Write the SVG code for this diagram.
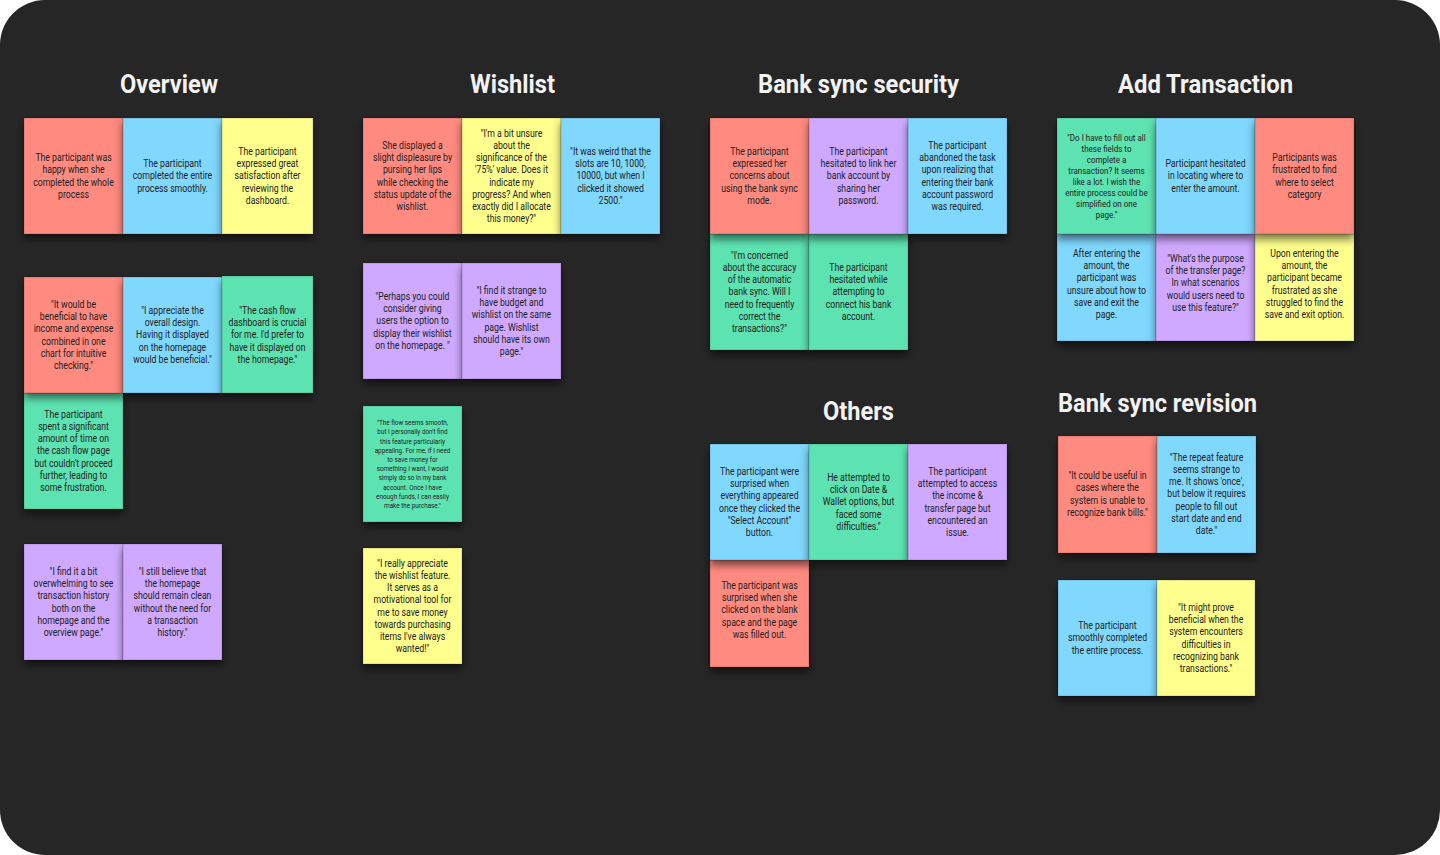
<svg xmlns="http://www.w3.org/2000/svg" width="1440" height="855" viewBox="0 0 1440 855">
<defs>
<filter id="sh" x="-20%" y="-20%" width="140%" height="150%">
<feDropShadow dx="0" dy="5" stdDeviation="4" flood-color="#000" flood-opacity="0.55"/>
</filter>
<style>
.n{filter:url(#sh);stroke:rgba(0,0,0,0.18);stroke-width:1}
.r{fill:#FF8A80}.b{fill:#80D8FF}.y{fill:#FFFF8D}.g{fill:#5DE3B1}.p{fill:#CFA9FF}
.t{font-family:Roboto,"Liberation Sans",sans-serif;font-size:10px;fill:#222;text-anchor:middle}
.s{font-size:7.3px}.m{font-size:9.2px}
.h{font-family:Roboto,"Liberation Sans",sans-serif;font-size:26px;font-weight:700;fill:#F2F2F2}
</style>
</defs>
<rect x="0" y="0" width="1440" height="855" fill="#ffffff"/>
<rect x="0" y="0" width="1440" height="855" rx="45" ry="45" fill="#262626"/>

<g id="titles">
<text class="h" x="120" y="93" textLength="98" lengthAdjust="spacingAndGlyphs">Overview</text>
<text class="h" x="470" y="93" textLength="85" lengthAdjust="spacingAndGlyphs">Wishlist</text>
<text class="h" x="758" y="93" textLength="201" lengthAdjust="spacingAndGlyphs">Bank sync security</text>
<text class="h" x="1118" y="93" textLength="175" lengthAdjust="spacingAndGlyphs">Add Transaction</text>
<text class="h" x="823" y="420" textLength="71" lengthAdjust="spacingAndGlyphs">Others</text>
<text class="h" x="1058" y="412" textLength="199" lengthAdjust="spacingAndGlyphs">Bank sync revision</text>
</g>

<g id="connectors"/>

<!-- Overview -->
<g id="o8"><rect class="n p" x="24" y="544" width="99" height="116"/>
<text class="t" transform="translate(73.5 0) scale(0.87 1)"><tspan x="0" y="575">"I find it a bit</tspan><tspan x="0" dy="12.2">overwhelming to see</tspan><tspan x="0" dy="12.2">transaction history</tspan><tspan x="0" dy="12.2">both on the</tspan><tspan x="0" dy="12.2">homepage and the</tspan><tspan x="0" dy="12.2">overview page."</tspan></text></g>
<g id="o9"><rect class="n p" x="123" y="544" width="99" height="116"/>
<text class="t" transform="translate(172.5 0) scale(0.87 1)"><tspan x="0" y="575">"I still believe that</tspan><tspan x="0" dy="12.2">the homepage</tspan><tspan x="0" dy="12.2">should remain clean</tspan><tspan x="0" dy="12.2">without the need for</tspan><tspan x="0" dy="12.2">a transaction</tspan><tspan x="0" dy="12.2">history."</tspan></text></g>
<g id="o7"><rect class="n g" x="24" y="393" width="99" height="116"/>
<text class="t" transform="translate(73.5 0) scale(0.87 1)"><tspan x="0" y="417.9">The participant</tspan><tspan x="0" dy="12.2">spent a significant</tspan><tspan x="0" dy="12.2">amount of time on</tspan><tspan x="0" dy="12.2">the cash flow page</tspan><tspan x="0" dy="12.2">but couldn't proceed</tspan><tspan x="0" dy="12.2">further, leading to</tspan><tspan x="0" dy="12.2">some frustration.</tspan></text></g>
<g id="o4"><rect class="n r" x="24" y="277" width="99" height="116"/>
<text class="t" transform="translate(73.5 0) scale(0.87 1)"><tspan x="0" y="308">"It would be</tspan><tspan x="0" dy="12.2">beneficial to have</tspan><tspan x="0" dy="12.2">income and expense</tspan><tspan x="0" dy="12.2">combined in one</tspan><tspan x="0" dy="12.2">chart for intuitive</tspan><tspan x="0" dy="12.2">checking."</tspan></text></g>
<g id="o5"><rect class="n b" x="123" y="277" width="99" height="116"/>
<text class="t" transform="translate(172.5 0) scale(0.87 1)"><tspan x="0" y="314.1">"I appreciate the</tspan><tspan x="0" dy="12.2">overall design.</tspan><tspan x="0" dy="12.2">Having it displayed</tspan><tspan x="0" dy="12.2">on the homepage</tspan><tspan x="0" dy="12.2">would be beneficial."</tspan></text></g>
<g id="o6"><rect class="n g" x="222" y="276" width="91" height="117"/>
<text class="t" transform="translate(267.5 0) scale(0.87 1)"><tspan x="0" y="314">"The cash flow</tspan><tspan x="0" dy="12.2">dashboard is crucial</tspan><tspan x="0" dy="12.2">for me. I'd prefer to</tspan><tspan x="0" dy="12.2">have it displayed on</tspan><tspan x="0" dy="12.2">the homepage."</tspan></text></g>
<g id="o1"><rect class="n r" x="24" y="118" width="99" height="116"/>
<text class="t" transform="translate(73.5 0) scale(0.87 1)"><tspan x="0" y="161.2">The participant was</tspan><tspan x="0" dy="12.2">happy when she</tspan><tspan x="0" dy="12.2">completed the whole</tspan><tspan x="0" dy="12.2">process</tspan></text></g>
<g id="o2"><rect class="n b" x="123" y="118" width="99" height="116"/>
<text class="t" transform="translate(172.5 0) scale(0.87 1)"><tspan x="0" y="167.3">The participant</tspan><tspan x="0" dy="12.2">completed the entire</tspan><tspan x="0" dy="12.2">process smoothly.</tspan></text></g>
<g id="o3"><rect class="n y" x="222" y="118" width="91" height="116"/>
<text class="t" transform="translate(267.5 0) scale(0.87 1)"><tspan x="0" y="155.1">The participant</tspan><tspan x="0" dy="12.2">expressed great</tspan><tspan x="0" dy="12.2">satisfaction after</tspan><tspan x="0" dy="12.2">reviewing the</tspan><tspan x="0" dy="12.2">dashboard.</tspan></text></g>

<!-- Wishlist -->
<g id="w7"><rect class="n y" x="363" y="548" width="99" height="116"/>
<text class="t" transform="translate(412.5 0) scale(0.87 1)"><tspan x="0" y="566.8">"I really appreciate</tspan><tspan x="0" dy="12.2">the wishlist feature.</tspan><tspan x="0" dy="12.2">It serves as a</tspan><tspan x="0" dy="12.2">motivational tool for</tspan><tspan x="0" dy="12.2">me to save money</tspan><tspan x="0" dy="12.2">towards purchasing</tspan><tspan x="0" dy="12.2">items I've always</tspan><tspan x="0" dy="12.2">wanted!"</tspan></text></g>
<g id="w6"><rect class="n g" x="363" y="406" width="99" height="116"/>
<text class="t s" transform="translate(412.5 0) scale(0.87 1)"><tspan x="0" y="425.2">"The flow seems smooth,</tspan><tspan x="0" dy="9.2">but I personally don't find</tspan><tspan x="0" dy="9.2">this feature particularly</tspan><tspan x="0" dy="9.2">appealing. For me, if I need</tspan><tspan x="0" dy="9.2">to save money for</tspan><tspan x="0" dy="9.2">something I want, I would</tspan><tspan x="0" dy="9.2">simply do so in my bank</tspan><tspan x="0" dy="9.2">account. Once I have</tspan><tspan x="0" dy="9.2">enough funds, I can easily</tspan><tspan x="0" dy="9.2">make the purchase."</tspan></text></g>
<g id="w4"><rect class="n p" x="363" y="263" width="99" height="116"/>
<text class="t" transform="translate(412.5 0) scale(0.87 1)"><tspan x="0" y="300.1">"Perhaps you could</tspan><tspan x="0" dy="12.2">consider giving</tspan><tspan x="0" dy="12.2">users the option to</tspan><tspan x="0" dy="12.2">display their wishlist</tspan><tspan x="0" dy="12.2">on the homepage. "</tspan></text></g>
<g id="w5"><rect class="n p" x="462" y="263" width="99" height="116"/>
<text class="t" transform="translate(511.5 0) scale(0.87 1)"><tspan x="0" y="294">"I find it strange to</tspan><tspan x="0" dy="12.2">have budget and</tspan><tspan x="0" dy="12.2">wishlist on the same</tspan><tspan x="0" dy="12.2">page. Wishlist</tspan><tspan x="0" dy="12.2">should have its own</tspan><tspan x="0" dy="12.2">page."</tspan></text></g>
<g id="w1"><rect class="n r" x="363" y="118" width="99" height="116"/>
<text class="t" transform="translate(412.5 0) scale(0.87 1)"><tspan x="0" y="149">She displayed a</tspan><tspan x="0" dy="12.2">slight displeasure by</tspan><tspan x="0" dy="12.2">pursing her lips</tspan><tspan x="0" dy="12.2">while checking the</tspan><tspan x="0" dy="12.2">status update of the</tspan><tspan x="0" dy="12.2">wishlist.</tspan></text></g>
<g id="w2"><rect class="n y" x="462" y="118" width="99" height="116"/>
<text class="t" transform="translate(511.5 0) scale(0.87 1)"><tspan x="0" y="136.8">"I'm a bit unsure</tspan><tspan x="0" dy="12.2">about the</tspan><tspan x="0" dy="12.2">significance of the</tspan><tspan x="0" dy="12.2">'75%' value. Does it</tspan><tspan x="0" dy="12.2">indicate my</tspan><tspan x="0" dy="12.2">progress? And when</tspan><tspan x="0" dy="12.2">exactly did I allocate</tspan><tspan x="0" dy="12.2">this money?"</tspan></text></g>
<g id="w3"><rect class="n b" x="561" y="118" width="99" height="116"/>
<text class="t" transform="translate(610.5 0) scale(0.87 1)"><tspan x="0" y="155.1">"It was weird that the</tspan><tspan x="0" dy="12.2">slots are 10, 1000,</tspan><tspan x="0" dy="12.2">10000, but when I</tspan><tspan x="0" dy="12.2">clicked it showed</tspan><tspan x="0" dy="12.2">2500."</tspan></text></g>

<!-- Bank sync security -->
<g id="b4"><rect class="n g" x="710" y="234" width="99" height="116"/>
<text class="t" transform="translate(759.5 0) scale(0.87 1)"><tspan x="0" y="258.9">"I'm concerned</tspan><tspan x="0" dy="12.2">about the accuracy</tspan><tspan x="0" dy="12.2">of the automatic</tspan><tspan x="0" dy="12.2">bank sync. Will I</tspan><tspan x="0" dy="12.2">need to frequently</tspan><tspan x="0" dy="12.2">correct the</tspan><tspan x="0" dy="12.2">transactions?"</tspan></text></g>
<g id="b5"><rect class="n g" x="809" y="234" width="99" height="116"/>
<text class="t" transform="translate(858.5 0) scale(0.87 1)"><tspan x="0" y="271.1">The participant</tspan><tspan x="0" dy="12.2">hesitated while</tspan><tspan x="0" dy="12.2">attempting to</tspan><tspan x="0" dy="12.2">connect his bank</tspan><tspan x="0" dy="12.2">account.</tspan></text></g>
<g id="b1"><rect class="n r" x="710" y="118" width="99" height="116"/>
<text class="t" transform="translate(759.5 0) scale(0.87 1)"><tspan x="0" y="155.1">The participant</tspan><tspan x="0" dy="12.2">expressed her</tspan><tspan x="0" dy="12.2">concerns about</tspan><tspan x="0" dy="12.2">using the bank sync</tspan><tspan x="0" dy="12.2">mode.</tspan></text></g>
<g id="b2"><rect class="n p" x="809" y="118" width="99" height="116"/>
<text class="t" transform="translate(858.5 0) scale(0.87 1)"><tspan x="0" y="155.1">The participant</tspan><tspan x="0" dy="12.2">hesitated to link her</tspan><tspan x="0" dy="12.2">bank account by</tspan><tspan x="0" dy="12.2">sharing her</tspan><tspan x="0" dy="12.2">password.</tspan></text></g>
<g id="b3"><rect class="n b" x="908" y="118" width="99" height="116"/>
<text class="t" transform="translate(957.5 0) scale(0.87 1)"><tspan x="0" y="149">The participant</tspan><tspan x="0" dy="12.2">abandoned the task</tspan><tspan x="0" dy="12.2">upon realizing that</tspan><tspan x="0" dy="12.2">entering their bank</tspan><tspan x="0" dy="12.2">account password</tspan><tspan x="0" dy="12.2">was required.</tspan></text></g>

<!-- Others -->
<g id="ot4"><rect class="n r" x="710" y="560" width="99" height="107"/>
<text class="t" transform="translate(759.5 0) scale(0.87 1)"><tspan x="0" y="589">The participant was</tspan><tspan x="0" dy="12.2">surprised when she</tspan><tspan x="0" dy="12.2">clicked on the blank</tspan><tspan x="0" dy="12.2">space and the page</tspan><tspan x="0" dy="12.2">was filled out.</tspan></text></g>
<g id="ot1"><rect class="n b" x="710" y="444" width="99" height="116"/>
<text class="t" transform="translate(759.5 0) scale(0.87 1)"><tspan x="0" y="475">The participant were</tspan><tspan x="0" dy="12.2">surprised when</tspan><tspan x="0" dy="12.2">everything appeared</tspan><tspan x="0" dy="12.2">once they clicked the</tspan><tspan x="0" dy="12.2">"Select Account"</tspan><tspan x="0" dy="12.2">button.</tspan></text></g>
<g id="ot2"><rect class="n g" x="809" y="444" width="99" height="116"/>
<text class="t" transform="translate(858.5 0) scale(0.87 1)"><tspan x="0" y="481.1">He attempted to</tspan><tspan x="0" dy="12.2">click on Date &amp;</tspan><tspan x="0" dy="12.2">Wallet options, but</tspan><tspan x="0" dy="12.2">faced some</tspan><tspan x="0" dy="12.2">difficulties."</tspan></text></g>
<g id="ot3"><rect class="n p" x="908" y="444" width="99" height="116"/>
<text class="t" transform="translate(957.5 0) scale(0.87 1)"><tspan x="0" y="475">The participant</tspan><tspan x="0" dy="12.2">attempted to access</tspan><tspan x="0" dy="12.2">the income &amp;</tspan><tspan x="0" dy="12.2">transfer page but</tspan><tspan x="0" dy="12.2">encountered an</tspan><tspan x="0" dy="12.2">issue.</tspan></text></g>

<!-- Add Transaction -->
<g id="a4"><rect class="n b" x="1057" y="234" width="99" height="107"/>
<text class="t" transform="translate(1106.5 0) scale(0.87 1)"><tspan x="0" y="257">After entering the</tspan><tspan x="0" dy="12.2">amount, the</tspan><tspan x="0" dy="12.2">participant was</tspan><tspan x="0" dy="12.2">unsure about how to</tspan><tspan x="0" dy="12.2">save and exit the</tspan><tspan x="0" dy="12.2">page.</tspan></text></g>
<g id="a5"><rect class="n p" x="1156" y="234" width="99" height="107"/>
<text class="t" transform="translate(1205.5 0) scale(0.87 1)"><tspan x="0" y="262">"What's the purpose</tspan><tspan x="0" dy="12.2">of the transfer page?</tspan><tspan x="0" dy="12.2">In what scenarios</tspan><tspan x="0" dy="12.2">would users need to</tspan><tspan x="0" dy="12.2">use this feature?"</tspan></text></g>
<g id="a6"><rect class="n y" x="1255" y="234" width="99" height="107"/>
<text class="t" transform="translate(1304.5 0) scale(0.87 1)"><tspan x="0" y="257">Upon entering the</tspan><tspan x="0" dy="12.2">amount, the</tspan><tspan x="0" dy="12.2">participant became</tspan><tspan x="0" dy="12.2">frustrated as she</tspan><tspan x="0" dy="12.2">struggled to find the</tspan><tspan x="0" dy="12.2">save and exit option.</tspan></text></g>
<g id="a1"><rect class="n g" x="1057" y="118" width="99" height="116"/>
<text class="t m" transform="translate(1106.5 0) scale(0.87 1)"><tspan x="0" y="140.7">"Do I have to fill out all</tspan><tspan x="0" dy="11">these fields to</tspan><tspan x="0" dy="11">complete a</tspan><tspan x="0" dy="11">transaction? It seems</tspan><tspan x="0" dy="11">like a lot. I wish the</tspan><tspan x="0" dy="11">entire process could be</tspan><tspan x="0" dy="11">simplified on one</tspan><tspan x="0" dy="11">page."</tspan></text></g>
<g id="a2"><rect class="n b" x="1156" y="118" width="99" height="116"/>
<text class="t" transform="translate(1205.5 0) scale(0.87 1)"><tspan x="0" y="167.3">Participant hesitated</tspan><tspan x="0" dy="12.2">in locating where to</tspan><tspan x="0" dy="12.2">enter the amount.</tspan></text></g>
<g id="a3"><rect class="n r" x="1255" y="118" width="99" height="116"/>
<text class="t" transform="translate(1304.5 0) scale(0.87 1)"><tspan x="0" y="161.2">Participants was</tspan><tspan x="0" dy="12.2">frustrated to find</tspan><tspan x="0" dy="12.2">where to select</tspan><tspan x="0" dy="12.2">category</tspan></text></g>

<!-- Bank sync revision -->
<g id="r3"><rect class="n b" x="1058" y="580" width="99" height="116"/>
<text class="t" transform="translate(1107.5 0) scale(0.87 1)"><tspan x="0" y="629.3">The participant</tspan><tspan x="0" dy="12.2">smoothly completed</tspan><tspan x="0" dy="12.2">the entire process.</tspan></text></g>
<g id="r4"><rect class="n y" x="1157" y="580" width="98" height="116"/>
<text class="t" transform="translate(1206 0) scale(0.87 1)"><tspan x="0" y="611">"It might prove</tspan><tspan x="0" dy="12.2">beneficial when the</tspan><tspan x="0" dy="12.2">system encounters</tspan><tspan x="0" dy="12.2">difficulties in</tspan><tspan x="0" dy="12.2">recognizing bank</tspan><tspan x="0" dy="12.2">transactions."</tspan></text></g>
<g id="r1"><rect class="n r" x="1058" y="436" width="99" height="117"/>
<text class="t" transform="translate(1107.5 0) scale(0.87 1)"><tspan x="0" y="479.2">"It could be useful in</tspan><tspan x="0" dy="12.2">cases where the</tspan><tspan x="0" dy="12.2">system is unable to</tspan><tspan x="0" dy="12.2">recognize bank bills."</tspan></text></g>
<g id="r2"><rect class="n b" x="1157" y="436" width="99" height="117"/>
<text class="t" transform="translate(1206.5 0) scale(0.87 1)"><tspan x="0" y="460.9">"The repeat feature</tspan><tspan x="0" dy="12.2">seems strange to</tspan><tspan x="0" dy="12.2">me. It shows 'once',</tspan><tspan x="0" dy="12.2">but below it requires</tspan><tspan x="0" dy="12.2">people to fill out</tspan><tspan x="0" dy="12.2">start date and end</tspan><tspan x="0" dy="12.2">date."</tspan></text></g>
</svg>
